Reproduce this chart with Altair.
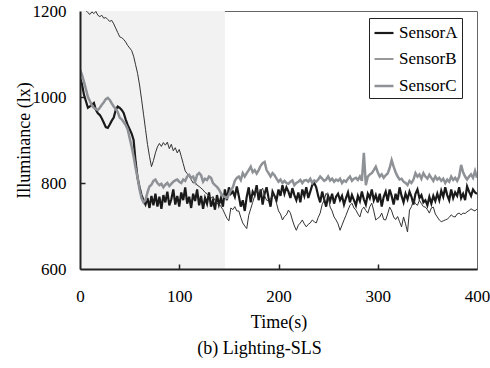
import altair as alt
import pandas as pd

FONT = "Liberation Serif"

time_s = list(range(0, 401, 2))

sensor_a = [
    1044, 1030, 1005, 990, 975, 978, 982, 986, 970, 962,
    958, 950, 940, 930, 928, 936, 945, 952, 970, 978,
    975, 970, 963, 948, 935, 925, 915, 900, 850, 812,
    790, 772, 760, 750, 765, 742, 770, 748, 775, 745,
    768, 740, 772, 755, 780, 748, 762, 785, 750, 770,
    745, 778, 760, 790, 752, 768, 742, 775, 758, 785,
    748, 770, 740, 765, 752, 778, 745, 760, 738, 772,
    750, 765, 745, 785, 760, 790, 775, 780, 768, 792,
    770, 745, 760, 735, 768, 790, 755, 780, 772, 795,
    760, 785, 750, 775, 790, 765, 745, 780, 770, 760,
    785, 770, 795, 775, 790, 780, 765, 788, 772, 760,
    778, 755, 785, 770, 790, 765, 780, 795, 800, 790,
    770, 755, 780, 762, 745, 770, 758, 775, 752, 768,
    775, 760, 770, 750, 765, 778, 755, 772, 760, 748,
    770, 758, 780, 762, 750, 775, 765, 785, 760, 772,
    755, 775, 745, 768, 780, 758, 785, 770, 750, 775,
    760, 790, 770, 755, 775, 762, 780, 768, 750, 775,
    785, 765, 772, 755, 760, 748, 768, 752, 770, 758,
    775, 760, 782, 768, 790, 772, 760, 785, 765, 778,
    770, 790, 765, 775, 760, 792, 780, 770, 785, 778,
    775,
]

sensor_b = [
    1220, 1215, 1208, 1201, 1196, 1192, 1198, 1194, 1199, 1190,
    1187, 1190, 1183, 1185, 1180, 1176, 1178, 1170, 1160, 1150,
    1140, 1138, 1134, 1128, 1120, 1114, 1108, 1095, 1075, 1055,
    1028, 995, 960, 925, 890, 862, 838, 852, 870, 884,
    892, 885, 894, 888, 895, 880, 890, 875, 882, 870,
    878, 862, 845, 828, 822, 815, 808, 800, 802, 795,
    792, 788, 784, 778, 775, 770, 765, 768, 760, 752,
    752, 745, 738, 728, 718, 712, 742, 738, 745, 735,
    735, 720, 707, 700, 694, 725, 740, 755, 770, 784,
    776, 780, 788, 770, 760, 758, 762, 776, 768, 753,
    735, 728, 714, 722, 726, 737, 730, 714, 700, 690,
    702, 707, 714, 705, 698, 704, 707, 714, 710, 707,
    720, 730, 750, 760, 776, 768, 744, 735, 721, 714,
    705, 690, 702, 714, 725, 737, 748, 753, 742, 737,
    728, 721, 738, 744, 736, 730, 745, 753, 735, 714,
    718, 721, 730, 715, 714, 728, 744, 735, 721, 715,
    722, 710, 698, 721, 705, 686, 737, 745, 760, 752,
    748, 760, 752, 745, 744, 738, 730, 742, 744, 728,
    721, 714, 710, 712, 714, 716, 720, 726, 722, 721,
    728, 730, 726, 730, 729, 733, 736, 740, 737, 735,
    740,
]

sensor_c = [
    1063, 1052, 1035, 1018, 1000, 990, 980, 975, 972, 970,
    975, 982, 988, 995, 998, 993, 985, 978, 972, 965,
    952, 948, 942, 935, 925, 905, 885, 862, 835, 812,
    785, 765, 755, 760, 778, 792, 796, 805, 808, 800,
    795, 798, 790, 796, 800, 793, 798, 803, 806, 808,
    803, 800, 808, 805, 815, 819, 812, 815, 803, 819,
    823, 818, 803, 810, 807, 815, 812, 800, 795, 791,
    785, 776, 770, 768, 765, 772, 784, 790, 805, 812,
    815, 807, 823, 815, 823, 830, 838, 825, 830, 822,
    830, 840, 846, 849, 830, 823, 815, 823, 818, 810,
    803, 808, 800, 805, 800, 798, 803, 806, 795, 800,
    803, 807, 800, 806, 807, 803, 810, 800, 806, 803,
    808, 815, 810, 805, 808, 815, 806, 810, 803, 808,
    805, 810, 800, 806, 803, 810, 815, 805, 810, 812,
    807, 815, 805, 870, 795, 815, 820, 823, 830, 838,
    825, 815, 820, 812, 818, 822, 835, 853, 838, 825,
    815, 808, 810, 803, 800, 795, 805, 800, 808, 823,
    815, 820, 810, 823, 815, 810, 819, 812, 805, 815,
    808, 812, 805, 810, 800, 808, 803, 815, 807, 812,
    805, 815, 842, 825, 815, 808, 815, 820, 812, 828,
    812,
]

series_names = ["SensorA", "SensorB", "SensorC"]
series_colors = ["#1a1a1a", "#333333", "#8e9296"]
series_widths = [2.2, 1.0, 2.5]

shade_start, shade_end = 0, 146
x_ticks = [0, 100, 200, 300, 400]
x_inner_ticks = [100, 200, 300]
y_ticks = [600, 800, 1000, 1200]
y_inner_ticks = [800, 1000]

W, H = 397, 258

rows = []
for name, vals in zip(series_names, [sensor_a, sensor_b, sensor_c]):
    for t, v in zip(time_s, vals):
        rows.append({"t": t, "v": v, "sensor": name})
df = pd.DataFrame(rows)

shade = pd.DataFrame({"x0": [shade_start], "x1": [shade_end],
                      "y0": [y_ticks[0]], "y1": [y_ticks[-1]]})

xscale = alt.Scale(domain=[x_ticks[0], x_ticks[-1]], nice=False, zero=False)
yscale = alt.Scale(domain=[y_ticks[0], y_ticks[-1]], nice=False, zero=False)

rect = alt.Chart(shade).mark_rect(color="#f2f2f2").encode(
    x=alt.X("x0:Q", scale=xscale,
            axis=alt.Axis(orient="top", offset=-H, values=x_inner_ticks, labels=False,
                          domain=False, ticks=True, tickSize=5, tickColor="#222",
                          tickWidth=1.5, grid=False, title=None, zindex=1)),
    x2="x1:Q",
    y=alt.Y("y0:Q", scale=yscale,
            axis=alt.Axis(orient="right", offset=-W, values=y_inner_ticks, labels=False,
                          domain=False, ticks=True, tickSize=5, tickColor="#222",
                          tickWidth=1.5, grid=False, title=None, zindex=1)),
    y2="y1:Q",
)

leg = alt.Legend(title=None, orient="none", legendX=289, legendY=7,
                 strokeColor="#222", fillColor="white", padding=4,
                 symbolType="stroke", symbolSize=361, labelFont=FONT,
                 labelFontSize=17, labelColor="black", rowPadding=8,
                 labelOffset=4, labelLimit=200)

lines = alt.Chart(df).mark_line(clip=True).encode(
    x=alt.X("t:Q", scale=xscale,
            axis=alt.Axis(orient="bottom", values=x_ticks, title="Time(s)", ticks=False,
                          tickSize=0, domainWidth=2, domainColor="#222", format="d",
                          labelFlush=False, grid=False, labelPadding=19,
                          titlePadding=9, zindex=1)),
    y=alt.Y("v:Q", scale=yscale,
            axis=alt.Axis(orient="left", values=y_ticks, title="Illuminance (lx)",
                          ticks=False, tickSize=0, domainWidth=2, domainColor="#222",
                          format="d", labelPadding=14, titlePadding=-1, grid=False,
                          zindex=1)),
    color=alt.Color("sensor:N", scale=alt.Scale(domain=series_names, range=series_colors),
                    legend=leg),
    strokeWidth=alt.StrokeWidth("sensor:N",
                                scale=alt.Scale(type="ordinal", domain=series_names,
                                                range=series_widths),
                                legend=leg),
)

chart = alt.layer(rect, lines).resolve_axis(
    x="independent", y="independent"
).properties(
    width=W, height=H,
    autosize="none",
    padding={"left": 80, "top": 11, "right": 13, "bottom": 99},
    title=alt.TitleParams("(b) Lighting-SLS", orient="bottom", font=FONT, fontSize=18,
                          fontWeight="normal", color="black", offset=9, dx=-19,
                          anchor="middle"),
).configure_view(
    stroke="#666", strokeWidth=1
).configure_axis(
    labelFont=FONT, titleFont=FONT, labelFontSize=17, titleFontSize=18,
    titleFontWeight="normal", labelColor="black", titleColor="black"
)

chart.save("out.html", embed_options={"renderer": "svg", "actions": False})
